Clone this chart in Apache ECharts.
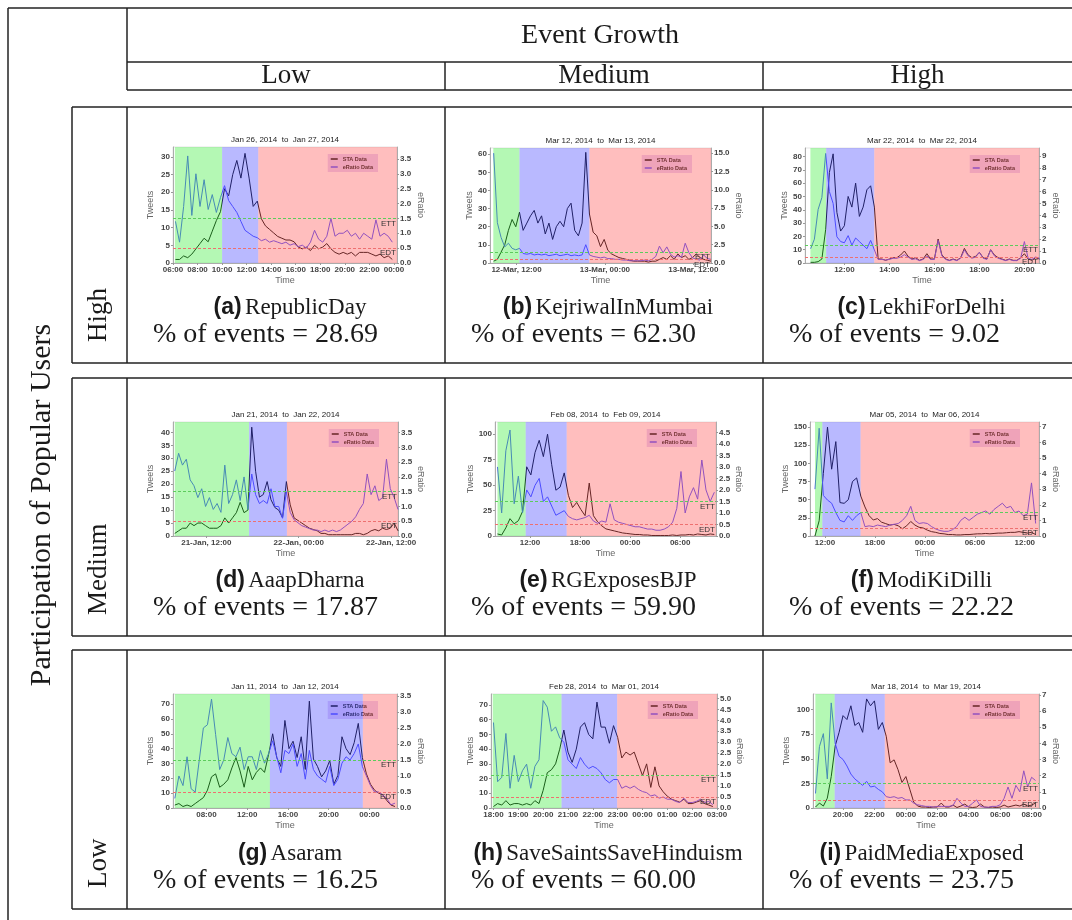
<!DOCTYPE html>
<html>
<head>
<meta charset="utf-8">
<script src="https://cdn.jsdelivr.net/npm/echarts@6/dist/echarts.min.js"></script>
<style>
  html, body { margin: 0; padding: 0; background: #fff; }
  #chart { width: 1072px; height: 920px; }
</style>
</head>
<body>
<div id="chart"></div>
<script>
/* global echarts */
// 3x3 grid of event timelines (STA tweets + eRatio), phases green/blue/pink

// ---------- data ----------
const ETT = 1.5;   // eRatio threshold lines
const EDT = 0.5;

const staA = [1, 1, 2, 1.5, 2.5, 4, 5.5, 7, 6, 9, 12, 14.5, 21, 19, 25, 29, 24, 31, 24, 16, 17.5, 12.5, 10.5, 9.5, 8.5, 7.5, 7, 6.5, 6.5, 6, 4.5, 4, 4.5, 3.5, 5, 4, 4.5, 5.5, 4, 3, 2.5, 3, 2.5, 3, 2, 3, 3, 3, 2.5, 2, 2.5, 1.5, 2, 1];
const eRatioA = [1.4, 0.7, 1.9, 3.6, 1.6, 3.0, 1.9, 2.8, 1.8, 2.3, 1.7, 2.2, 2.6, 2.1, 1.9, 1.7, 1.4, 1.1, 1.0, 0.9, 0.85, 0.75, 0.8, 0.7, 0.75, 0.7, 0.65, 0.7, 0.6, 0.65, 0.55, 0.6, 0.5, 0.7, 1.1, 0.8, 0.7, 0.9, 1.5, 0.9, 1.0, 1.0, 1.1, 0.9, 1.0, 0.8, 1.0, 0.9, 0.8, 1.45, 0.9, 1.0, 0.9, 0.7];
const staB = [1, 2, 6, 10, 18, 24, 20, 28, 18, 22, 26, 29, 22, 26, 16, 22, 13, 20, 23, 20, 30, 33, 18, 15, 22, 61, 27, 17, 15, 9, 13, 7, 5, 4, 3, 2.5, 2, 1.5, 1, 1, 1, 1, 0.5, 1, 1, 2, 3, 2, 4, 2, 5, 3, 4, 2, 3, 5, 3, 2, 1.5, 1];
const eRatioB = [15, 5.5, 3.5, 2.2, 2.7, 2.0, 1.8, 2.0, 1.3, 1.2, 1.3, 1.1, 1.2, 1.1, 1.2, 1.0, 1.1, 1.2, 1.0, 1.1, 1.2, 1.0, 1.1, 1.0, 1.1, 2.5, 1.1, 0.9, 0.8, 0.7, 0.8, 0.6, 0.6, 0.5, 0.5, 0.4, 0.4, 0.3, 0.3, 0.3, 0.3, 0.4, 0.3, 0.5, 0.9, 2.3, 1.4, 2.2, 1.2, 0.8, 1.0, 0.8, 2.7, 1.4, 0.7, 0.5, 0.4, 1.1, 0.6, 0.5];
const staC = [0.5, 0.5, 1, 3, 25, 68, 82, 38, 24, 28, 50, 42, 60, 35, 42, 55, 58, 42, 3, 3, 2, 3, 4, 4, 6, 9, 5, 3, 4, 2, 3, 7, 3, 3, 18, 6, 3, 2, 3, 2, 4, 11, 6, 4, 5, 8, 4, 3, 10, 6, 4, 3, 2, 3, 2, 2, 4, 7, 3, 2, 4, 3];
const eRatioC = [1.2, 2.0, 4.5, 5.5, 9.2, 6.0, 5.0, 2.2, 1.8, 1.7, 2.3, 1.5, 2.1, 1.8, 1.5, 1.2, 1.9, 1.1, 0.3, 0.3, 0.25, 0.3, 0.4, 0.4, 0.5, 0.7, 0.5, 0.3, 0.35, 0.2, 0.3, 0.6, 0.3, 0.3, 1.9, 0.6, 0.3, 0.2, 0.3, 0.2, 0.4, 1.1, 0.6, 0.4, 0.5, 0.9, 0.4, 0.3, 1.1, 0.6, 0.4, 0.3, 0.2, 0.3, 0.2, 0.2, 0.4, 1.8, 0.4, 0.3, 0.5, 0.4];
const staD = [1, 2, 3, 3, 5, 4, 5, 5, 4, 3, 3, 3, 4, 7, 5, 7, 9, 13, 9, 10, 42, 25, 15, 16, 21, 14, 11, 10, 7, 21, 12, 7, 6, 5, 4, 3, 2.5, 2, 1, 1, 0.5, 0.5, 0.5, 0.5, 0.5, 0.5, 0.5, 1, 1, 0.5, 1, 2, 2.5, 2, 3, 2.5, 3, 5, 2];
const eRatioD = [2.2, 2.8, 2.4, 2.6, 1.9, 1.7, 1.3, 1.6, 1.0, 1.3, 0.9, 1.1, 0.8, 2.4, 1.1, 1.4, 1.9, 1.2, 2.0, 0.9, 2.1, 1.4, 1.1, 1.2, 1.1, 1.6, 1.0, 1.0, 0.6, 1.5, 0.8, 0.55, 0.45, 0.35, 0.3, 0.25, 0.2, 0.2, 0.15, 0.2, 0.15, 0.2, 0.15, 0.2, 0.3, 0.4, 0.5, 0.65, 0.9, 1.1, 2.1, 1.4, 1.7, 1.2, 1.3, 2.6, 1.6, 1.3, 0.9];
const staE = [2, 1, 8, 17, 12, 15, 24, 68, 60, 82, 94, 78, 100, 70, 45, 48, 62, 40, 28, 33, 26, 20, 52, 20, 14, 10, 7, 6, 5, 4, 3, 2.5, 2, 1.5, 1.5, 1, 1, 0.5, 0.5, 0.5, 0.5, 0.5, 1, 0.5, 1, 1, 1.5, 1, 2, 1.5, 1, 2, 1.5];
const eRatioE = [3.0, 1.0, 3.7, 4.6, 1.4, 2.6, 1.0, 2.0, 1.7, 2.2, 2.5, 1.5, 1.7, 1.3, 0.9, 1.0, 1.1, 0.85, 0.75, 0.7, 0.75, 0.8, 0.9, 0.65, 0.55, 0.65, 0.6, 1.4, 0.7, 0.6, 0.55, 0.5, 0.45, 0.4, 0.4, 0.35, 0.3, 0.3, 0.25, 0.25, 0.3, 0.4, 0.6, 1.2, 2.8, 1.0, 1.7, 2.1, 1.6, 3.3, 2.0, 1.5, 1.9];
const staF = [0, 21, 86, 150, 92, 130, 46, 45, 50, 75, 80, 55, 40, 28, 22, 24, 19, 17, 15, 16, 14, 10, 14, 20, 15, 12, 11, 8, 6, 5, 3.5, 3, 2, 2, 1.5, 1.5, 2, 2, 2.5, 3, 3, 3.5, 3, 3.5, 4, 4, 4.5, 5, 5, 6, 5, 4, 5, 2];
const eRatioF = [3.0, 6.9, 2.6, 2.3, 2.1, 1.5, 1.0, 0.9, 1.3, 1.0, 1.3, 1.5, 0.6, 0.65, 0.6, 0.7, 0.65, 0.6, 0.7, 0.75, 0.8, 1.0, 1.3, 1.9, 1.0, 0.8, 0.85, 0.8, 0.6, 0.45, 0.35, 0.3, 0.3, 0.4, 0.6, 1.0, 1.2, 1.0, 1.2, 1.4, 1.5, 1.6, 1.4, 1.7, 1.9, 2.1, 1.8, 1.9, 1.5, 1.6, 1.3, 1.4, 3.4, 0.8];
const staG = [2, 3, 1, 2, 1, 3, 5, 7, 12, 21, 23, 14, 16, 19, 27, 34, 25, 14, 28, 19, 24, 27, 24, 36, 50, 34, 28, 59, 40, 45, 34, 48, 26, 72, 33, 28, 21, 25, 32, 16, 22, 48, 40, 36, 44, 57, 34, 23, 16, 12, 10, 9, 5, 2, 1];
const eRatioG = [0.3, 1.0, 0.7, 1.6, 0.6, 0.5, 1.5, 2.5, 2.6, 3.4, 2.3, 1.2, 1.5, 2.2, 1.7, 1.6, 1.9, 1.2, 1.6, 1.6, 1.2, 1.8, 1.4, 1.7, 2.1, 1.6, 1.1, 1.8, 1.7, 2.0, 1.3, 1.7, 0.9, 1.8, 1.2, 1.0, 0.9, 0.8, 1.3, 0.7, 0.9, 1.4, 1.6, 1.5, 1.7, 2.0, 1.3, 1.0, 0.7, 0.5, 0.5, 0.4, 0.3, 0.1, 0.15];
const staH = [1, 3, 2, 5, 2, 3, 3, 2, 3, 2, 5, 3, 12, 24, 26, 30, 40, 53, 38, 31, 40, 55, 58, 50, 47, 72, 55, 55, 44, 56, 48, 34, 38, 36, 38, 30, 22, 30, 14, 28, 15, 11, 8, 6, 5, 4, 6, 3, 3, 4, 5, 3, 2, 1];
const eRatioH = [3.9, 1.2, 1.4, 3.4, 0.9, 2.4, 1.2, 1.7, 2.0, 0.9, 1.9, 2.2, 4.9, 4.6, 3.5, 3.7, 3.2, 3.0, 2.2, 2.0, 1.8, 2.3, 2.0, 1.8, 1.9, 1.8, 1.6, 1.3, 1.15, 1.3, 1.3, 0.9, 1.0, 0.9, 1.0, 0.85, 0.75, 0.7, 0.55, 0.6, 0.45, 0.5, 0.4, 0.4, 0.3, 0.25, 0.45, 0.25, 0.25, 0.3, 0.4, 0.25, 0.3, 0.15];
const staI = [1, 5, 2, 10, 32, 63, 77, 94, 90, 104, 84, 87, 77, 111, 104, 109, 80, 87, 73, 46, 49, 39, 26, 32, 19, 6, 2, 1, 1, 0.5, 1, 1, 5, 1, 1, 3, 0.5, 2, 4, 1, 0.5, 1, 4, 1, 0.5, 1, 0.5, 1, 3, 1, 2, 3, 2, 4, 2, 3, 5];
const eRatioI = [0.9, 3.8, 4.6, 1.8, 6.5, 4.0, 3.2, 3.0, 2.6, 2.1, 1.8, 1.6, 1.4, 1.65, 1.3, 1.35, 1.15, 1.0, 0.7, 0.65, 0.7, 0.6, 0.65, 0.5, 0.5, 0.3, 0.2, 0.15, 0.1, 0.1, 0.05, 0.1, 0.1, 0.1, 0.1, 0.15, 0.6, 0.3, 0.1, 0.1, 0.3, 0.5, 0.1, 0.05, 0.05, 0.1, 0.1, 0.2, 0.6, 1.3, 0.6, 1.4, 1.0, 2.3, 1.3, 1.9, 1.7];

// sample clock (hours since the first day's midnight): start, step
const clockA = [6.2, 1 / 3];
const clockB = [8.9, 0.5];
const clockC = [10.5, 1 / 6];
const clockD = [7.9, 0.5];
const clockE = [8.1, 0.5];
const clockF = [10.8, 0.5];
const clockG = [4.9, 0.4];
const clockH = [18.0, 1 / 6];
const clockI = [18.25, 0.25];

// phase boundaries: green start, blue start, pink start, end
const phasesA = [6.15, 10.0, 12.95, 24.25];
const phasesB = [8.85, 12.4, 21.9, 38.4];
const phasesC = [10.49, 11.19, 13.33, 20.65];
const phasesD = [7.9, 17.55, 22.47, 36.9];
const phasesE = [8.1, 11.48, 16.4, 34.3];
const phasesF = [10.8, 11.68, 16.28, 37.7];
const phasesG = [4.9, 14.23, 23.35, 26.7];
const phasesH = [17.97, 20.74, 22.98, 27.0];
const phasesI = [18.24, 19.47, 22.66, 32.47];

// x ranges
const xRangeA = [6.0, 24.25];
const xRangeB = [8.4, 38.4];
const xRangeC = [10.25, 20.65];
const xRangeD = [7.67, 36.9];
const xRangeE = [7.8, 34.3];
const xRangeF = [10.2, 37.7];
const xRangeG = [4.72, 26.7];
const xRangeH = [17.9, 27.0];
const xRangeI = [18.09, 32.47];

// x ticks + labels
const xTicksA = [6, 8, 10, 12, 14, 16, 18, 20, 22, 24];
const xLabelsA = ['06:00', '08:00', '10:00', '12:00', '14:00', '16:00', '18:00', '20:00', '22:00', '00:00'];
const xTicksB = [12, 24, 36];
const xLabelsB = ['12-Mar, 12:00', '13-Mar, 00:00', '13-Mar, 12:00'];
const xTicksC = [12, 14, 16, 18, 20];
const xLabelsC = ['12:00', '14:00', '16:00', '18:00', '20:00'];
const xTicksD = [12, 24, 36];
const xLabelsD = ['21-Jan, 12:00', '22-Jan, 00:00', '22-Jan, 12:00'];
const xTicksE = [12, 18, 24, 30];
const xLabelsE = ['12:00', '18:00', '00:00', '06:00'];
const xTicksF = [12, 18, 24, 30, 36];
const xLabelsF = ['12:00', '18:00', '00:00', '06:00', '12:00'];
const xTicksG = [8, 12, 16, 20, 24];
const xLabelsG = ['08:00', '12:00', '16:00', '20:00', '00:00'];
const xTicksH = [18, 19, 20, 21, 22, 23, 24, 25, 26, 27];
const xLabelsH = ['18:00', '19:00', '20:00', '21:00', '22:00', '23:00', '00:00', '01:00', '02:00', '03:00'];
const xTicksI = [20, 22, 24, 26, 28, 30, 32];
const xLabelsI = ['20:00', '22:00', '00:00', '02:00', '04:00', '06:00', '08:00'];

// left (Tweets) axis: max + ticks
const tweetsA = [32.8, [0, 5, 10, 15, 20, 25, 30]];
const tweetsB = [63.4, [0, 10, 20, 30, 40, 50, 60]];
const tweetsC = [86.4, [0, 10, 20, 30, 40, 50, 60, 70, 80]];
const tweetsD = [44, [0, 5, 10, 15, 20, 25, 30, 35, 40]];
const tweetsE = [112, [0, 25, 50, 75, 100]];
const tweetsF = [157, [0, 25, 50, 75, 100, 125, 150]];
const tweetsG = [76.8, [0, 10, 20, 30, 40, 50, 60, 70]];
const tweetsH = [77.5, [0, 10, 20, 30, 40, 50, 60, 70]];
const tweetsI = [116, [0, 25, 50, 75, 100]];

// right (eRatio) axis: max + ticks + decimals
const ratioA = [3.9, [0, 0.5, 1, 1.5, 2, 2.5, 3, 3.5], 1];
const ratioB = [15.7, [0, 2.5, 5, 7.5, 10, 12.5, 15], 1];
const ratioC = [9.66, [0, 1, 2, 3, 4, 5, 6, 7, 8, 9], 0];
const ratioD = [3.86, [0, 0.5, 1, 1.5, 2, 2.5, 3, 3.5], 1];
const ratioE = [4.95, [0, 0.5, 1, 1.5, 2, 2.5, 3, 3.5, 4, 4.5], 1];
const ratioF = [7.3, [0, 1, 2, 3, 4, 5, 6, 7], 0];
const ratioG = [3.56, [0, 0.5, 1, 1.5, 2, 2.5, 3, 3.5], 1];
const ratioH = [5.2, [0, 0.5, 1, 1.5, 2, 2.5, 3, 3.5, 4, 4.5, 5], 1];
const ratioI = [7.05, [0, 1, 2, 3, 4, 5, 6, 7], 0];

const titles = [
  'Jan 26, 2014  to  Jan 27, 2014', 'Mar 12, 2014  to  Mar 13, 2014', 'Mar 22, 2014  to  Mar 22, 2014',
  'Jan 21, 2014  to  Jan 22, 2014', 'Feb 08, 2014  to  Feb 09, 2014', 'Mar 05, 2014  to  Mar 06, 2014',
  'Jan 11, 2014  to  Jan 12, 2014', 'Feb 28, 2014  to  Mar 01, 2014', 'Mar 18, 2014  to  Mar 19, 2014',
];
const eventNames = ['RepublicDay', 'KejriwalInMumbai', 'LekhiForDelhi', 'AaapDharna', 'RGExposesBJP',
  'ModiKiDilli', 'Asaram', 'SaveSaintsSaveHinduism', 'PaidMediaExposed'];
const eventShares = ['28.69', '62.30', '9.02', '17.87', '59.90', '22.22', '16.25', '60.00', '23.75'];
const growthLevels = ['Low', 'Medium', 'High'];
const userLevels = ['High', 'Medium', 'Low'];

// ---------- layout ----------
const PLOTS = [          // left, top, width, height (px)
  [173, 147, 224, 116], [490, 148, 221, 115], [805, 148, 234, 115],
  [173, 422, 225, 114], [495, 422, 221, 114], [810, 422, 229, 114],
  [173, 694, 224, 114], [491, 694, 226, 114], [813, 694, 226, 114],
];
const ROWS = [[107, 363], [378, 636], [650, 909]];
const COLS = [127, 445, 763, 1072];
const NAME_X_LEFT = [151, 472, 787];
const NAME_X_RIGHT = [420, 738, 1055];

const SERIF = '"Liberation Serif", "Times New Roman", serif';
const SANS = '"Liberation Sans", Arial, sans-serif';
const PHASE_FILL = ['rgba(68,237,68,0.4)', 'rgba(80,80,255,0.4)', 'rgba(255,92,92,0.4)'];
const INK = '#1a1a1a';

const PANELS = [
  [staA, eRatioA, clockA, phasesA, xRangeA, xTicksA, xLabelsA, tweetsA, ratioA],
  [staB, eRatioB, clockB, phasesB, xRangeB, xTicksB, xLabelsB, tweetsB, ratioB],
  [staC, eRatioC, clockC, phasesC, xRangeC, xTicksC, xLabelsC, tweetsC, ratioC],
  [staD, eRatioD, clockD, phasesD, xRangeD, xTicksD, xLabelsD, tweetsD, ratioD],
  [staE, eRatioE, clockE, phasesE, xRangeE, xTicksE, xLabelsE, tweetsE, ratioE],
  [staF, eRatioF, clockF, phasesF, xRangeF, xTicksF, xLabelsF, tweetsF, ratioF],
  [staG, eRatioG, clockG, phasesG, xRangeG, xTicksG, xLabelsG, tweetsG, ratioG],
  [staH, eRatioH, clockH, phasesH, xRangeH, xTicksH, xLabelsH, tweetsH, ratioH],
  [staI, eRatioI, clockI, phasesI, xRangeI, xTicksI, xLabelsI, tweetsI, ratioI],
];

function renderPhase(params, api) {
  const cs = params.coordSys;
  const x0 = api.coord([api.value(0), 0])[0];
  const x1 = api.coord([api.value(1), 0])[0];
  return {
    type: 'rect',
    shape: { x: x0, y: cs.y, width: x1 - x0, height: cs.height },
    style: { fill: PHASE_FILL[api.value(2)] },
  };
}

const TICK_LABEL = { fontSize: 8, fontWeight: 'bold', color: '#444', fontFamily: SANS };
const AXIS_NAME = { fontSize: 9, color: '#666', fontFamily: SANS };
const AXIS_LINE = { show: true, lineStyle: { color: '#999', width: 0.8 } };

const grid = [], xAxis = [], yAxis = [], series = [], legend = [], graphic = [];

PANELS.forEach((p, k) => {
  const [sta, eratio, clock, phases, xRange, xTicks, xLabels, tweets, ratio] = p;
  const [gl, gt, gw, gh] = PLOTS[k];
  const col = k % 3, row = Math.floor(k / 3);

  grid.push({
    left: gl, top: gt, width: gw, height: gh,
    show: true, backgroundColor: '#fff', borderColor: '#c8c8c8', borderWidth: 0.5,
    containLabel: false, outerBoundsMode: 'none',
  });

  xAxis.push({
    gridIndex: k, type: 'value', min: xRange[0], max: xRange[1],
    axisLine: AXIS_LINE,
    axisTick: { show: true, customValues: xTicks, length: 2, lineStyle: { color: '#999' } },
    axisLabel: {
      ...TICK_LABEL, margin: 3, customValues: xTicks,
      formatter: (v) => {
        const i = xTicks.findIndex((t) => Math.abs(t - v) < 1e-6);
        return i >= 0 ? xLabels[i] : '';
      },
    },
    splitLine: { show: false },
    name: 'Time', nameLocation: 'middle', nameGap: 13, nameTextStyle: AXIS_NAME,
  });

  yAxis.push({
    gridIndex: k, type: 'value', position: 'left', min: 0, max: tweets[0],
    axisLine: AXIS_LINE,
    axisTick: { show: true, customValues: tweets[1], length: 2, lineStyle: { color: '#999' } },
    axisLabel: { ...TICK_LABEL, margin: 3, customValues: tweets[1] },
    splitLine: { show: false },
    name: 'Tweets', nameLocation: 'middle', nameRotate: 90,
    nameGap: gl - NAME_X_LEFT[col] - 4.5, nameTextStyle: AXIS_NAME,
  });
  yAxis.push({
    gridIndex: k, type: 'value', position: 'right', min: 0, max: ratio[0],
    axisLine: AXIS_LINE,
    axisTick: { show: true, customValues: ratio[1], length: 2, lineStyle: { color: '#999' } },
    axisLabel: { ...TICK_LABEL, margin: 3, customValues: ratio[1], formatter: (v) => v.toFixed(ratio[2]) },
    splitLine: { show: false },
    name: 'eRatio', nameLocation: 'middle', nameRotate: -90,
    nameGap: NAME_X_RIGHT[col] - (gl + gw) - 4.5, nameTextStyle: AXIS_NAME,
  });

  const xs = (i) => clock[0] + i * clock[1];

  series.push({
    type: 'line', name: 'STA Data', xAxisIndex: k, yAxisIndex: 2 * k,
    data: sta.map((v, i) => [xs(i), v]),
    showSymbol: false, z: 2,
    lineStyle: { color: '#000', width: 1 }, itemStyle: { color: '#000' },
  });
  series.push({
    type: 'line', name: 'eRatio Data', xAxisIndex: k, yAxisIndex: 2 * k + 1,
    data: eratio.map((v, i) => [xs(i), v]),
    showSymbol: false, z: 2,
    lineStyle: { color: '#4a4aff', width: 1 }, itemStyle: { color: '#4a4aff' },
    markLine: {
      silent: true, symbol: 'none', animation: false,
      label: { position: 'insideEndBottom', fontSize: 8, color: '#333', fontFamily: SANS, distance: 1 },
      data: [
        { yAxis: ETT, lineStyle: { color: '#5ccc5c', type: [3, 2], width: 1 }, label: { formatter: 'ETT' } },
        { yAxis: EDT, lineStyle: { color: '#ee7070', type: [3, 2], width: 1 }, label: { formatter: 'EDT' } },
      ],
    },
  });
  // translucent phase bands drawn over the lines (tints them like the original)
  series.push({
    type: 'custom', xAxisIndex: k, yAxisIndex: 2 * k, z: 4, silent: true,
    renderItem: renderPhase,
    encode: { x: [0, 1], y: 2 },
    data: [[phases[0], phases[1], 0], [phases[1], phases[2], 1], [phases[2], phases[3], 2]],
  });

  legend.push({
    data: ['STA Data', 'eRatio Data'], selectedMode: false,
    orient: 'vertical', right: 1072 - (gl + gw - 19), top: gt + 7,
    icon: 'rect', itemWidth: 7, itemHeight: 1.5, itemGap: 2,
    padding: [2, 5, 2, 3],
    backgroundColor: 'rgba(205,175,240,0.55)',
    textStyle: { fontSize: 5.5, fontWeight: 'bold', color: '#111', fontFamily: SANS },
  });

  // chart title
  graphic.push({
    type: 'text', x: gl + gw / 2, y: gt - 7, silent: true,
    style: { text: titles[k], font: '8px ' + SANS, fill: '#222', textAlign: 'center', textVerticalAlign: 'middle', align: 'center', verticalAlign: 'middle' },
  });
  // captions
  const rowBottom = ROWS[row][1];
  const cellLeft = COLS[col], cellMid = (COLS[col] + COLS[col + 1]) / 2;
  graphic.push({
    type: 'text', x: cellMid + 4, y: rowBottom - 55, silent: true,
    style: {
      text: '{b|(' + 'abcdefghi'[k] + ')} {s|' + eventNames[k] + '}',
      textAlign: 'center', textVerticalAlign: 'middle', align: 'center', verticalAlign: 'middle',
      rich: {
        b: { fontSize: 23, fontWeight: 'bold', fontFamily: SANS, fill: INK, color: INK },
        s: { fontSize: 23, fontFamily: SERIF, fill: INK, color: INK },
      },
    },
  });
  graphic.push({
    type: 'text', x: cellLeft + 26, y: rowBottom - 28, silent: true,
    style: { text: '% of events = ' + eventShares[k], font: '28px ' + SERIF, fill: INK, textAlign: 'left', textVerticalAlign: 'middle', align: 'left', verticalAlign: 'middle' },
  });
});

// ---------- table frame ----------
function line(x1, y1, x2, y2) {
  graphic.push({ type: 'line', silent: true, shape: { x1, y1, x2, y2 }, style: { stroke: '#222', lineWidth: 1.5 } });
}
line(8, 8, 1072, 8);
line(8, 8, 8, 920);
line(127, 8, 127, 90);
line(127, 62, 1072, 62);
line(127, 90, 1072, 90);
line(445, 62, 445, 90);
line(763, 62, 763, 90);
ROWS.forEach(([top, bottom]) => {
  line(72, top, 1072, top);
  line(72, bottom, 1072, bottom);
  line(72, top, 72, bottom);
  [127, 445, 763].forEach((x) => line(x, top, x, bottom));
});

function label(text, x, y, size, opts) {
  graphic.push({
    type: 'text', x, y, rotation: (opts && opts.rotation) || 0, silent: true,
    style: {
      text, font: size + 'px ' + SERIF, fill: INK,
      textAlign: (opts && opts.align) || 'center', align: (opts && opts.align) || 'center',
      textVerticalAlign: 'middle', verticalAlign: 'middle',
    },
  });
}
label('Event Growth', 600, 36, 28);
growthLevels.forEach((t, c) => label(t, (COLS[c] + COLS[c + 1]) / 2, 76, 27));
label('Participation of Popular Users', 42, 505, 30, { rotation: Math.PI / 2 });
userLevels.forEach((t, r) => label(t, 99, ROWS[r][1] - 21, 27, { rotation: Math.PI / 2, align: 'left' }));

const chart = echarts.init(document.getElementById('chart'));
chart.setOption({
  animation: false,
  textStyle: { fontFamily: SANS },
  grid, xAxis, yAxis, series, legend, graphic,
});
</script>
</body>
</html>
